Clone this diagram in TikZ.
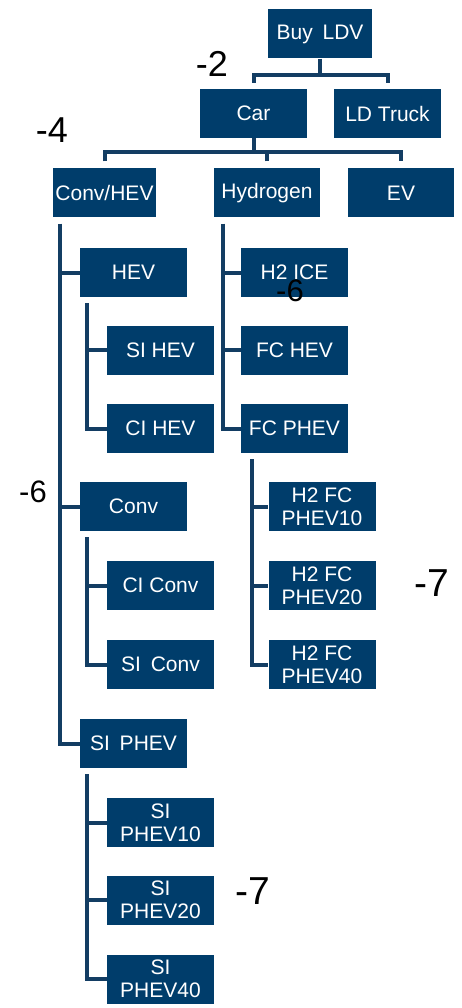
\documentclass[tikz,border=0pt]{standalone}
\usepackage{fontspec}
\setmainfont{Liberation Sans}
\definecolor{navy}{HTML}{003D6B}
\definecolor{linknavy}{HTML}{133D63}
\tikzset{
  box/.style={fill=navy, text=white, minimum width=107pt, minimum height=49pt,
    inner sep=0pt, align=center, font=\fontsize{21}{23}\selectfont},
  link/.style={draw=linknavy, line width=4pt},
  level/.style={text=black, font=\fontsize{36}{36}\selectfont},
}
\begin{document}
\begin{tikzpicture}[x=1pt, y=-1pt]

\useasboundingbox (0, 0) rectangle (462, 1008);

\node[box, minimum width=104pt] (buy) at (320, 34) {Buy\hspace{4pt} LDV};

\node[box] (car) at (253.5, 113.5) {Car};
\node[box] (truck) at (387.5, 113.5) {LD Truck};

\node[box, minimum width=103pt] (convhev) at (104.5, 193) {Conv/HEV};
\node[box, minimum width=106pt] (hydrogen) at (267, 193) {Hydrogen};
\node[box, minimum width=106pt] (ev) at (401, 193) {EV};

\node[box] (hev) at (133.5, 272.5) {HEV};
\node[box] (sihev) at (160.5, 350) {SI HEV};
\node[box] (cihev) at (160.5, 428.5) {CI HEV};

\node[box] (h2ice) at (294.5, 272.5) {H2 ICE};
\node[box] (fchev) at (294.5, 350) {FC HEV};
\node[box] (fcphev) at (294.5, 428.5) {FC PHEV};

\node[box] (conv) at (133.5, 506.5) {Conv};
\node[box] (ciconv) at (160.5, 585.5) {CI Conv};
\node[box] (siconv) at (160.5, 664.5) {SI\hspace{4pt} Conv};

\node[box] (fcten) at (322, 506.5) {H2 FC\\PHEV10};
\node[box] (fctwenty) at (322, 585.5) {H2 FC\\PHEV20};
\node[box] (fcforty) at (322, 664.5) {H2 FC\\PHEV40};

\node[box] (siphev) at (133.5, 743.5) {SI\hspace{4pt} PHEV};
\node[box] (siten) at (160.5, 822.5) {SI\\PHEV10};
\node[box] (sitwenty) at (160.5, 900) {SI\\PHEV20};
\node[box] (siforty) at (160.5, 979) {SI\\PHEV40};

% brackets
\coordinate (topbar) at (320, 75);
\draw[link] (buy.south) -- (topbar);
\draw[link] ([yshift=6pt]car.north) |- (topbar) -| ([yshift=6pt]truck.north);

\coordinate (carbar) at (253.5, 152);
\draw[link] (car.south) -- (carbar);
\draw[link] ([yshift=7pt]convhev.north) |- (carbar) -| ([yshift=7pt]ev.north);
\draw[link] ([yshift=7pt]hydrogen.north) -- (hydrogen.north |- carbar);

% trunks
\coordinate (convtrunk) at ([xshift=7pt, yshift=-6pt]convhev.south west);
\draw[link] (convtrunk) |- (siphev.west);
\draw[link] (convtrunk |- hev.west) -- (hev.west);
\draw[link] (convtrunk |- conv.west) -- (conv.west);

\coordinate (hevtrunk) at ([xshift=7pt, yshift=-6pt]hev.south west);
\draw[link] (hevtrunk) |- (cihev.west);
\draw[link] (hevtrunk |- sihev.west) -- (sihev.west);

\coordinate (convsub) at ([xshift=7pt, yshift=-6pt]conv.south west);
\draw[link] (convsub) |- (siconv.west);
\draw[link] (convsub |- ciconv.west) -- (ciconv.west);

\coordinate (phevsub) at ([xshift=7pt, yshift=-6pt]siphev.south west);
\draw[link] (phevsub) |- (siforty.west);
\draw[link] (phevsub |- siten.west) -- (siten.west);
\draw[link] (phevsub |- sitwenty.west) -- (sitwenty.west);

\coordinate (h2trunk) at ([xshift=9pt, yshift=-6pt]hydrogen.south west);
\draw[link] (h2trunk) |- (fcphev.west);
\draw[link] (h2trunk |- h2ice.west) -- (h2ice.west);
\draw[link] (h2trunk |- fchev.west) -- (fchev.west);

\coordinate (fctrunk) at ([xshift=11pt, yshift=-6pt]fcphev.south west);
\draw[link] (fctrunk) |- (fcforty.west);
\draw[link] (fctrunk |- fcten.west) -- (fcten.west);
\draw[link] (fctrunk |- fctwenty.west) -- (fctwenty.west);

% levels
\node[level] (ltwo) at (212, 64) {-2};
\node[level] (lfour) at (52, 130) {-4};
\node[level, font=\fontsize{31}{31}\selectfont] (lsixh) at (290, 291) {-6};
\node[level, font=\fontsize{31}{31}\selectfont] (lsix) at (33, 492) {-6};
\node[level, font=\fontsize{39}{39}\selectfont] (lsevenh) at (432, 583) {-7};
\node[level, font=\fontsize{39}{39}\selectfont] (lseven) at (253, 891) {-7};

\end{tikzpicture}
\end{document}
